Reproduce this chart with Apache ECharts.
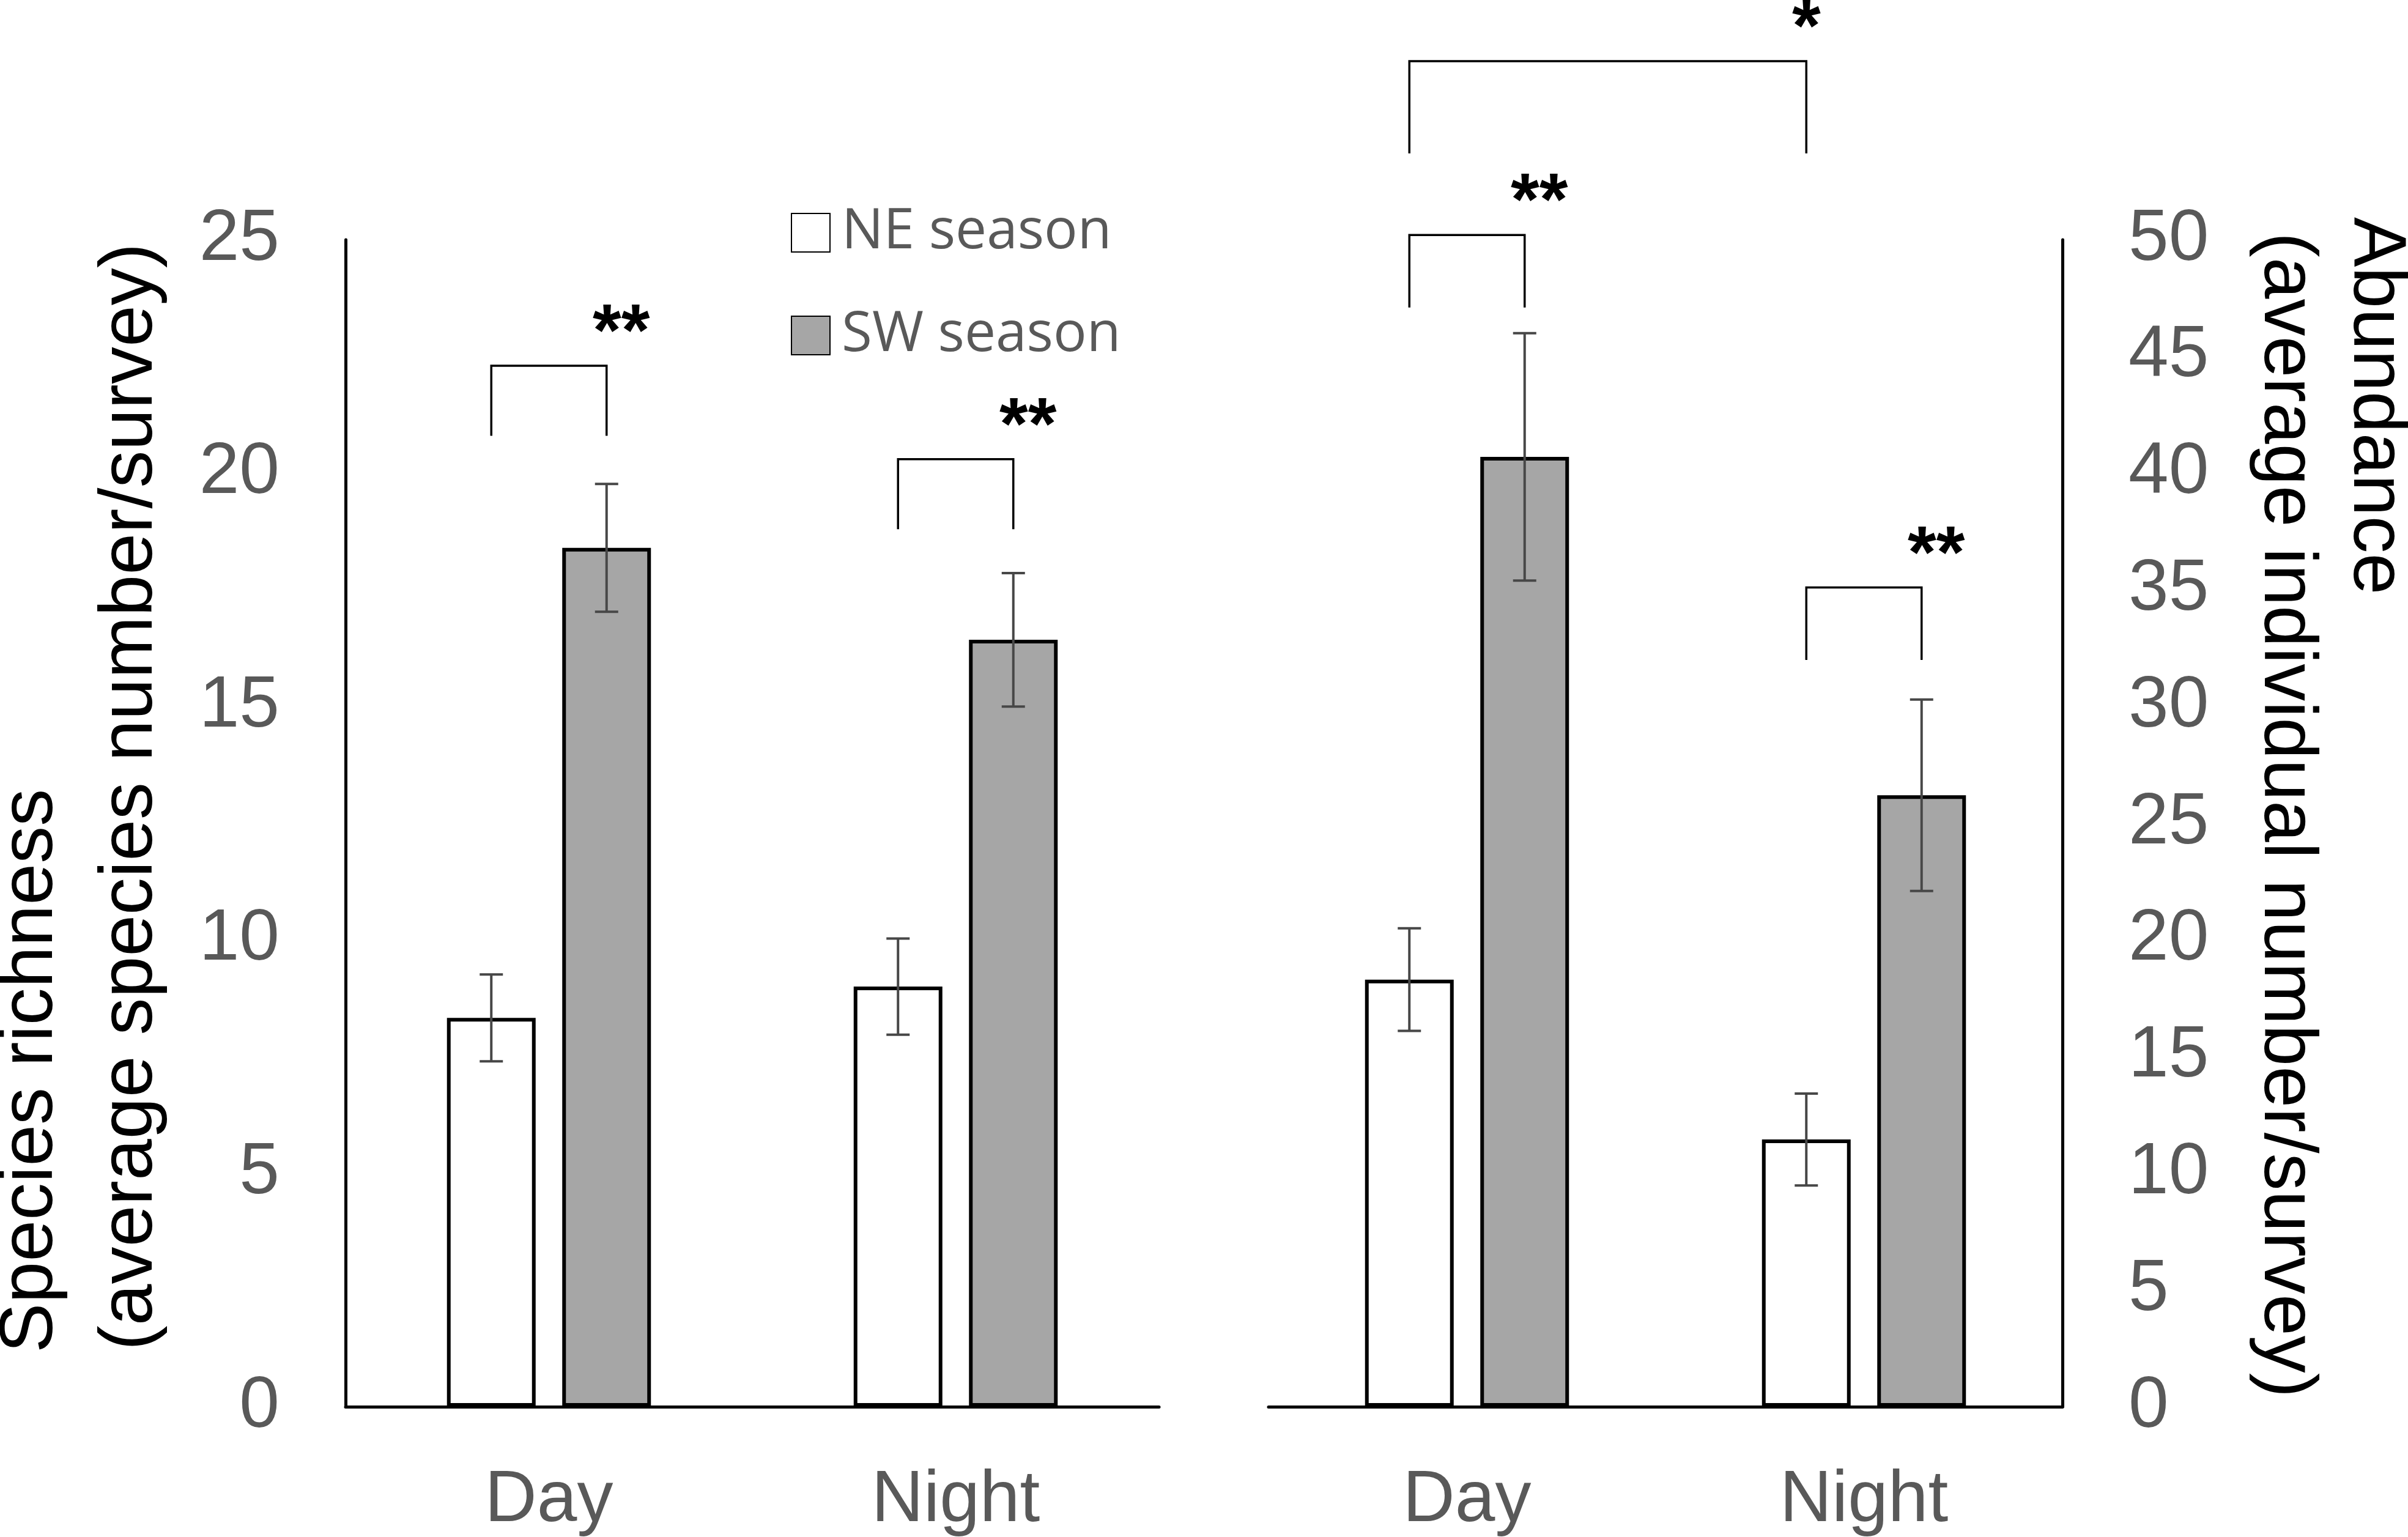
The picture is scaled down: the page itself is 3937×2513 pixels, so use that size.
<!DOCTYPE html>
<html>
<head>
<meta charset="utf-8">
<script src="https://cdn.jsdelivr.net/npm/echarts@6/dist/echarts.min.js"></script>
<style>
html,body{margin:0;padding:0;background:#fff;}
#chart{width:3937px;height:2513px;}
</style>
</head>
<body>
<div id="chart"></div>
<script>
// ---------- data ----------
const categories = ['Day', 'Night'];
const seasonNames = ['NE season', 'SW season'];

// Species richness (left panel)
const richnessNE = [8.33, 9.0];
const richnessNEErr = [0.93, 1.03];
const richnessSW = [18.4, 16.43];
const richnessSWErr = [1.37, 1.43];

// Abundance (right panel)
const abundanceNE = [18.3, 11.45];
const abundanceNEErr = [2.2, 1.97];
const abundanceSW = [40.7, 26.2];
const abundanceSWErr = [5.3, 4.1];

// significance brackets: from/to = [categoryIndex, seasonIndex]
const richnessBrackets = [
  { from: [0, 0], to: [0, 1], top: 22.3, leg: 20.8, mark: '**' },
  { from: [1, 0], to: [1, 1], top: 20.3, leg: 18.8, mark: '**' }
];
const abundanceBrackets = [
  { from: [0, 0], to: [0, 1], top: 50.2, leg: 47.1, mark: '**' },
  { from: [1, 0], to: [1, 1], top: 35.1, leg: 32.0, mark: '**' },
  { from: [0, 0], to: [1, 0], top: 57.65, leg: 53.7, mark: '*' }
];

const leftAxisName = ['Species richness', '(average species number/survey)'];
const rightAxisName = ['Abundance', '(average individual number/survey)'];

// ---------- style ----------
const FONT = 'Liberation Sans, Arial, sans-serif';
const GREY = '#595959';
const BAR_W = 145;
const BAR_GAP = 0.30;
const OFF = BAR_W * (1 + BAR_GAP) / 2;

function barX(api, ref) {
  return api.coord([ref[0], 0])[0] + (ref[1] ? 1 : -1) * OFF;
}

function errorSeries(gi, ne, neErr, sw, swErr) {
  const data = [];
  ne.forEach((v, i) => data.push([i, 0, v, neErr[i]]));
  sw.forEach((v, i) => data.push([i, 1, v, swErr[i]]));
  return {
    type: 'custom', xAxisIndex: gi, yAxisIndex: gi, z: 5, silent: true,
    encode: { x: 0, y: 2 },
    data: data,
    renderItem: function (params, api) {
      const cat = api.value(0), side = api.value(1), m = api.value(2), e = api.value(3);
      const x = barX(api, [cat, side]);
      const yh = api.coord([cat, m + e])[1];
      const yl = api.coord([cat, m - e])[1];
      const st = { stroke: '#474747', lineWidth: 4 };
      return { type: 'group', children: [
        { type: 'line', shape: { x1: x, y1: yh, x2: x, y2: yl }, style: st },
        { type: 'line', shape: { x1: x - 19, y1: yh, x2: x + 19, y2: yh }, style: st },
        { type: 'line', shape: { x1: x - 19, y1: yl, x2: x + 19, y2: yl }, style: st }
      ]};
    }
  };
}

function bracketSeries(gi, list) {
  return {
    type: 'custom', xAxisIndex: gi, yAxisIndex: gi, z: 6, silent: true, clip: false,
    encode: { x: 0, y: 1 },
    data: list.map(b => [b.from[0], b.top]),
    renderItem: function (params, api) {
      const b = list[params.dataIndex];
      const x1 = barX(api, b.from), x2 = barX(api, b.to);
      const yTop = api.coord([0, b.top])[1];
      const yLeg = api.coord([0, b.leg])[1];
      return { type: 'group', children: [
        { type: 'polyline', shape: { points: [[x1, yLeg], [x1, yTop], [x2, yTop], [x2, yLeg]] },
          style: { stroke: '#000', lineWidth: 3.5, fill: null } },
        { type: 'text', x: x2 + (b.mark === '**' ? 24 : 0), y: yTop - 50,
          style: { text: b.mark, fontSize: 120, fontWeight: 'bold', fontFamily: FONT, fill: '#000', align: 'center', verticalAlign: 'middle' } }
      ]};
    }
  };
}

function barSeries(gi, name, values, color) {
  return {
    type: 'bar', name: name, xAxisIndex: gi, yAxisIndex: gi,
    barWidth: BAR_W, barGap: (BAR_GAP * 100) + '%',
    data: values,
    itemStyle: { color: color, borderColor: '#000', borderWidth: 6 },
    emphasis: { disabled: true }
  };
}

const axisLabelStyle = { fontSize: 118, color: GREY, fontFamily: FONT };

const chart = echarts.init(document.getElementById('chart'), null, { renderer: 'canvas' });
chart.setOption({
  animation: false,
  backgroundColor: '#fff',
  grid: [
    { left: 565, width: 1330, top: 392, height: 1908 },
    { left: 2074, width: 1298, top: 392, height: 1908 }
  ],
  legend: {
    data: seasonNames,
    orient: 'vertical',
    left: 1288, top: 330,
    itemWidth: 63, itemHeight: 63, itemGap: 77,
    icon: 'rect',
    textStyle: { fontFamily: 'Open Sans', fontSize: 91, color: GREY, padding: [0, 0, 0, 14] }
  },
  xAxis: [0, 1].map(gi => ({
    type: 'category', gridIndex: gi, data: categories,
    axisLine: { lineStyle: { color: '#000', width: 5 } },
    axisTick: { show: false },
    axisLabel: Object.assign({ margin: 95 }, axisLabelStyle),
    splitLine: { show: false }
  })),
  yAxis: [
    { type: 'value', gridIndex: 0, min: 0, max: 25, interval: 5, position: 'left',
      axisLine: { show: true, lineStyle: { color: '#000', width: 5 } },
      axisTick: { show: false }, splitLine: { show: false },
      axisLabel: Object.assign({ margin: 108 }, axisLabelStyle) },
    { type: 'value', gridIndex: 1, min: 0, max: 50, interval: 5, position: 'right',
      axisLine: { show: true, lineStyle: { color: '#000', width: 5 } },
      axisTick: { show: false }, splitLine: { show: false },
      axisLabel: Object.assign({ margin: 108 }, axisLabelStyle) }
  ],
  graphic: [
    { type: 'text', x: 112, y: 2212, rotation: Math.PI / 2,
      style: { text: leftAxisName[0], fontSize: 122, fontFamily: FONT, fill: '#000', align: 'left', verticalAlign: 'bottom' } },
    { type: 'text', x: 275, y: 2208, rotation: Math.PI / 2,
      style: { text: leftAxisName[1], fontSize: 122, fontFamily: FONT, fill: '#000', align: 'left', verticalAlign: 'bottom' } },
    { type: 'text', x: 3822, y: 355, rotation: -Math.PI / 2,
      style: { text: rightAxisName[0], fontSize: 122, fontFamily: FONT, fill: '#000', align: 'left', verticalAlign: 'bottom' } },
    { type: 'text', x: 3676, y: 380, rotation: -Math.PI / 2,
      style: { text: rightAxisName[1], fontSize: 122, fontFamily: FONT, fill: '#000', align: 'left', verticalAlign: 'bottom' } }
  ],
  series: [
    barSeries(0, seasonNames[0], richnessNE, '#ffffff'),
    barSeries(0, seasonNames[1], richnessSW, '#a6a6a6'),
    barSeries(1, seasonNames[0], abundanceNE, '#ffffff'),
    barSeries(1, seasonNames[1], abundanceSW, '#a6a6a6'),
    errorSeries(0, richnessNE, richnessNEErr, richnessSW, richnessSWErr),
    errorSeries(1, abundanceNE, abundanceNEErr, abundanceSW, abundanceSWErr),
    bracketSeries(0, richnessBrackets),
    bracketSeries(1, abundanceBrackets)
  ]
});
</script>
</body>
</html>
